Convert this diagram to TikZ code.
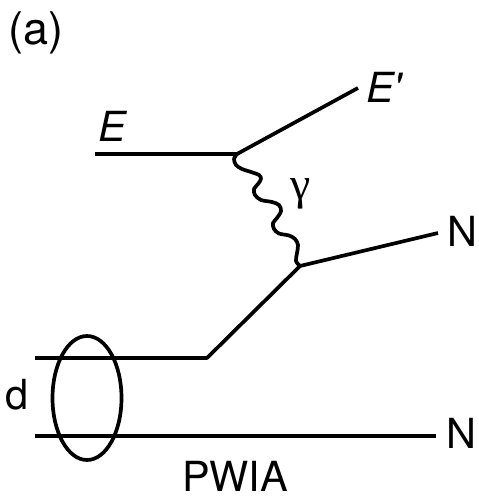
\documentclass[tikz,border=0pt]{standalone}
\usepackage{fontspec}
\setmainfont{TeX Gyre Heros}
\newfontfamily\greekfont{Liberation Serif}
\usetikzlibrary{shapes.geometric}

\tikzset{lbl/.style={font=\fontsize{11.8}{13}\selectfont, inner sep=0pt, anchor=base}}

\begin{document}
\begin{tikzpicture}[x=0.1mm, y=-0.1mm, line width=1.05pt, line join=round]
          \useasboundingbox (0,0) rectangle (479,502);

          \coordinate (ein) at (95,154);
          \coordinate (v1) at (237,154);
          \coordinate (eout) at (358,88);

          \coordinate (v2) at (300,266);
          \coordinate (nout) at (438,233);

          \coordinate (kink) at (207,358);
          \coordinate (din) at (35,358);

          \coordinate (sin) at (35,436);
          \coordinate (sout) at (436,436);

          \node[ellipse, draw, inner sep=0pt, minimum width=6.9mm, minimum height=12.4mm] (deut) at (87,398) {};

          \draw (ein) -- (v1) -- (eout);
          % photon line, traced by hand
          \draw plot[smooth, tension=0.55] coordinates {(v1) (234,159) (236,165) (242,169) (251,172) (259,175) (261,179) (258,184) (254,189) (255,195) (261,200) (272,202) (279,205) (281,211) (277,218) (273,223) (274,229) (279,233.5) (289,235.5) (295,239) (298,245) (297,253) (296,261) (v2)};
          \draw (v2) -- (nout);
          \draw (v2) -- (kink) -- (din);
          \draw (sin) -- (sout);

          \node[lbl, anchor=center, font=\fontsize{12.8}{14}\selectfont] (tag) at (36,33) {(a)};
          \node[lbl, font=\fontsize{11.8}{13}\selectfont\itshape] (lE) at (112,142) {E};
          \node[lbl, font=\fontsize{11.8}{13}\selectfont\itshape] (lEp) at (384,103) {E\textquotesingle};
          \node[lbl, font=\fontsize{13}{14}\selectfont\greekfont] (lg) at (301,200) {γ};
          \node[lbl] (lN1) at (462,247) {N};
          \node[lbl] (lN2) at (461,448) {N};
          \node[lbl] (ld) at (17,409) {d};
          \node[lbl] (lpwia) at (235,491) {PWIA};
        \end{tikzpicture}
\end{document}
